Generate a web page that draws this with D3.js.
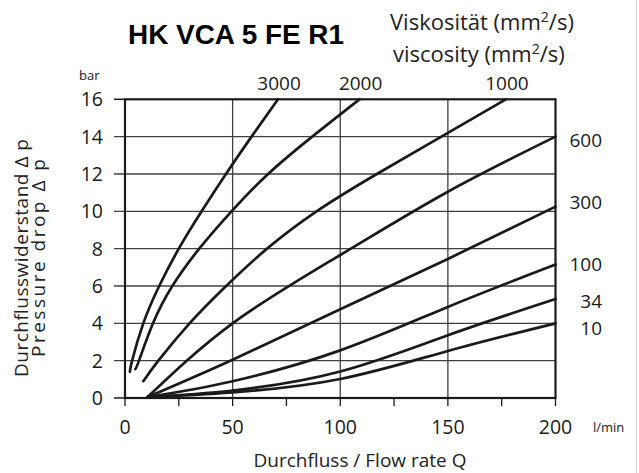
<!DOCTYPE html>
<html><head><meta charset="utf-8">
<script src="https://cdn.jsdelivr.net/npm/d3@7"></script>
<style>body{margin:0;background:#fff}svg{display:block}</style>
</head><body>
<svg id="c" width="639" height="473"></svg>
<script>
// ---- data ----
const chartTitle = "HK VCA 5 FE R1";
const xTickValues = [0, 50, 100, 150, 200];
const xMinorTicks = [0, 25, 50, 75, 100, 125, 150, 175, 200];
const yTickValues = [0, 2, 4, 6, 8, 10, 12, 14, 16];
const viscosities = ["3000", "2000", "1000", "600", "300", "100", "34", "10"];

const flow3000 = [2.3, 3.3, 8.5, 15.9, 25, 35.6, 46.9, 58.8, 71.1];
const dp3000   = [1.4, 2, 4, 6, 8, 10, 12, 14, 16];
const flow2000 = [4.8, 6.5, 13, 22, 34.5, 49.5, 66.5, 87, 109];
const dp2000   = [1.55, 2, 4, 6, 8, 10, 12, 14, 16];
const flow1000 = [8.5, 15.5, 30, 47, 66, 89, 117, 147, 177];
const dp1000   = [0.9, 2, 4, 6, 8, 10, 12, 14, 16];
const flow600  = [10.5, 50, 100, 150, 200];
const dp600    = [0.05, 4, 7.66, 11.05, 14];
const flow300  = [10.5, 50, 100, 150, 200];
const dp300    = [0.05, 2.05, 4.75, 7.45, 10.25];
const flow100  = [10.5, 50, 100, 150, 200];
const dp100    = [0.05, 0.9, 2.55, 4.88, 7.15];
const flow34   = [10.5, 50, 100, 150, 200];
const dp34     = [0.05, 0.4, 1.42, 3.36, 5.3];
const flow10   = [10.5, 50, 100, 150, 200];
const dp10     = [0.05, 0.3, 1.02, 2.52, 4.0];

const seriesFlow = [flow3000, flow2000, flow1000, flow600, flow300, flow100, flow34, flow10];
const seriesDp   = [dp3000, dp2000, dp1000, dp600, dp300, dp100, dp34, dp10];

// ---- layout ----
const svg = d3.select("#c");
const x = d3.scaleLinear().domain([0, 200]).range([125, 555.5]);
const y = d3.scaleLinear().domain([0, 16]).range([398, 99.3]);
const FONT = "'Open Sans', 'Noto Sans', sans-serif";
const ink = "#1a1a1a";

// light frame line at right edge
svg.append("line").attr("x1", 636.5).attr("x2", 636.5).attr("y1", 0).attr("y2", 473)
  .attr("stroke", "#d0d0d0").attr("stroke-width", 1);

// grid
const grid = svg.append("g");
grid.selectAll("line.h").data(yTickValues.filter(d => d > 0 && d < 16)).join("line")
  .attr("x1", x(0) - 11).attr("x2", x(200))
  .attr("y1", d => y(d)).attr("y2", d => y(d))
  .attr("stroke", "#404040").attr("stroke-width", 1.3);
grid.selectAll("line.v").data([50, 100, 150]).join("line")
  .attr("x1", d => x(d)).attr("x2", d => x(d))
  .attr("y1", y(16)).attr("y2", y(0))
  .attr("stroke", "#404040").attr("stroke-width", 1.3);

// y ticks (outside left)
svg.append("g").selectAll("line").data([0, 16]).join("line")
  .attr("x1", x(0) - 11).attr("x2", x(0))
  .attr("y1", d => y(d)).attr("y2", d => y(d))
  .attr("stroke", ink).attr("stroke-width", 1.5);
// x ticks (below)
svg.append("g").selectAll("line").data(xMinorTicks).join("line")
  .attr("x1", d => x(d)).attr("x2", d => x(d))
  .attr("y1", y(0)).attr("y2", y(0) + 8)
  .attr("stroke", ink).attr("stroke-width", 1.3);

// frame
svg.append("rect").attr("x", x(0)).attr("y", y(16))
  .attr("width", x(200) - x(0)).attr("height", y(0) - y(16))
  .attr("fill", "none").attr("stroke", ink).attr("stroke-width", 2.2);

// curves
const line = d3.line().x(d => x(d[0])).y(d => y(d[1])).curve(d3.curveNatural);
svg.append("g").selectAll("path").data(seriesFlow.map((f, i) => f.map((v, j) => [v, seriesDp[i][j]])))
  .join("path")
  .attr("d", line)
  .attr("fill", "none").attr("stroke", ink).attr("stroke-width", 2.7)
  .attr("stroke-linecap", "round");

// y tick labels
svg.append("g").selectAll("text").data(yTickValues).join("text")
  .attr("x", 103).attr("y", d => y(d) + 7)
  .attr("text-anchor", "end").attr("font-family", FONT).attr("font-size", 19.5)
  .attr("fill", ink).text(d => d);

// x tick labels
svg.append("g").selectAll("text").data(xTickValues).join("text")
  .attr("x", d => x(d)).attr("y", 434)
  .attr("text-anchor", "middle").attr("font-family", FONT).attr("font-size", 19.5)
  .attr("fill", ink).text(d => d);

svg.append("text").attr("x", 593).attr("y", 432).attr("font-family", FONT)
  .attr("font-size", 13).attr("fill", ink).text("l/min");
svg.append("text").attr("x", 79).attr("y", 80).attr("font-family", FONT)
  .attr("font-size", 13).attr("fill", ink).text("bar");

// viscosity labels at top (above curve ends)
const topIdx = [0, 1, 2];
svg.append("g").selectAll("text").data(topIdx).join("text")
  .attr("x", i => x(seriesFlow[i][seriesFlow[i].length - 1]) + 1)
  .attr("y", 90)
  .attr("text-anchor", "middle").attr("font-family", FONT).attr("font-size", 19)
  .attr("fill", ink).text(i => viscosities[i]);
// viscosity labels at right
const rightIdx = [3, 4, 5, 6, 7];
const rightLabelY = [140, 202, 264, 301, 328];
svg.append("g").selectAll("text").data(rightIdx).join("text")
  .attr("x", 602).attr("y", (i, k) => rightLabelY[k] + 7)
  .attr("text-anchor", "end").attr("font-family", FONT).attr("font-size", 19)
  .attr("fill", ink).text(i => viscosities[i]);

// title
svg.append("text").attr("x", 128).attr("y", 44)
  .attr("font-family", "'Liberation Sans', Arial, sans-serif").attr("font-weight", "bold")
  .attr("font-size", 27).attr("fill", "#000")
  .attr("textLength", 216).attr("lengthAdjust", "spacingAndGlyphs")
  .text(chartTitle);

// viscosity heading (two lines with superscript)
function viscHeading(txt, xPos, yPos) {
  const t = svg.append("text").attr("x", xPos).attr("y", yPos)
    .attr("font-family", FONT).attr("font-size", 22).attr("fill", "#222");
  t.append("tspan").text(txt + " (mm");
  t.append("tspan").attr("dy", -8).attr("font-size", 14).text("2");
  t.append("tspan").attr("dy", 8).text("/s)");
}
viscHeading("Viskosität", 390, 30);
viscHeading("viscosity", 393, 62);

// y-axis title
const yt = svg.append("g").attr("transform", "translate(0,258) rotate(-90)");
yt.append("text").attr("x", 0).attr("y", 28).attr("text-anchor", "middle")
  .attr("font-family", FONT).attr("font-size", 19).attr("fill", "#222")
  .attr("textLength", 238).attr("lengthAdjust", "spacing")
  .text("Durchflusswiderstand Δ p");
yt.append("text").attr("x", 0).attr("y", 45).attr("text-anchor", "middle")
  .attr("font-family", FONT).attr("font-size", 19).attr("fill", "#222")
  .attr("textLength", 198).attr("lengthAdjust", "spacing")
  .text("Pressure drop Δ p");

// x-axis title
svg.append("text").attr("x", 360).attr("y", 467).attr("text-anchor", "middle")
  .attr("font-family", FONT).attr("font-size", 19).attr("fill", "#222")
  .text("Durchfluss / Flow rate  Q");
</script>
</body></html>
